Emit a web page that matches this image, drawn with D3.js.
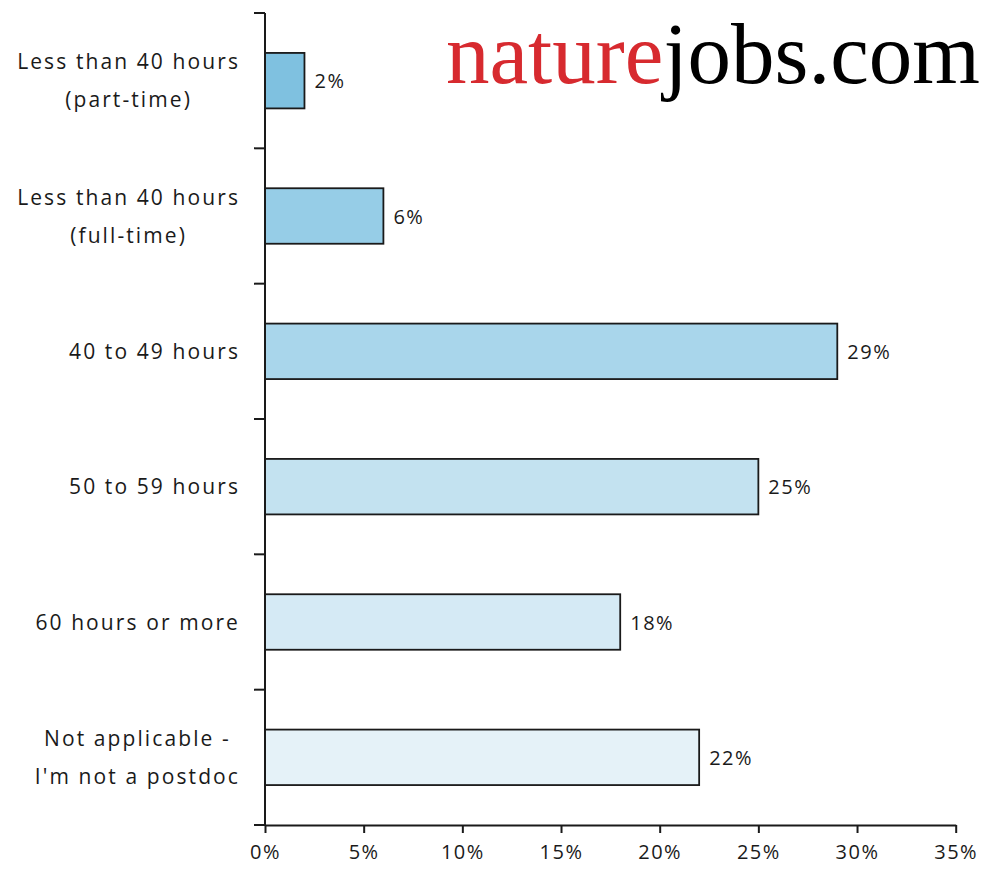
<!DOCTYPE html>
<html>
<head>
<meta charset="utf-8">
<script src="https://cdn.jsdelivr.net/npm/d3@7"></script>
<style>
  html, body { margin: 0; padding: 0; background: #ffffff; }
  svg { display: block; }
</style>
</head>
<body>
<svg id="chart" width="985" height="877"></svg>
<script>
// Weekly working hours of postdocs (share of respondents)
const categories = [
  ["Less than 40 hours", "(part-time)"],
  ["Less than 40 hours", "(full-time)"],
  ["40 to 49 hours"],
  ["50 to 59 hours"],
  ["60 hours or more"],
  ["Not applicable -", "I'm not a postdoc"]
];
const shares = [2, 6, 29, 25, 18, 22];
const barColors = ["#7fc1e0", "#96cde7", "#a9d6eb", "#c3e2f0", "#d5eaf5", "#e5f2f8"];
const xTicks = [0, 5, 10, 15, 20, 25, 30, 35];
const logoParts = [
  { text: "nature", color: "#d72a2f" },
  { text: "jobs.com", color: "#000000" }
];

const svg = d3.select("#chart");
const ink = "#1a1a1a";
const labelFont = "'Open Sans', 'Noto Sans', sans-serif";

const keys = categories.map(c => c.join(" "));
const rows = keys.map((k, i) => ({ key: k, lines: categories[i], value: shares[i], color: barColors[i] }));

const x = d3.scaleLinear().domain([0, 35]).range([265, 955.7]);
const y = d3.scaleBand().domain(keys).range([13, 825]).paddingInner(0.59).paddingOuter(0.295);

// Bars
svg.append("g")
  .selectAll("rect")
  .data(rows)
  .join("rect")
  .attr("x", x(0))
  .attr("y", d => y(d.key))
  .attr("width", d => x(d.value) - x(0))
  .attr("height", y.bandwidth())
  .attr("fill", d => d.color)
  .attr("stroke", ink)
  .attr("stroke-width", 1.8);

// Value labels
svg.append("g")
  .selectAll("text")
  .data(rows)
  .join("text")
  .attr("x", d => x(d.value) + 10)
  .attr("y", d => y(d.key) + y.bandwidth() / 2 + 7.5)
  .attr("font-family", labelFont)
  .attr("font-size", 20)
  .attr("letter-spacing", 1.5)
  .attr("fill", ink)
  .text(d => d.value + "%");

// X axis
const xAxis = svg.append("g")
  .attr("transform", `translate(0,825)`)
  .call(d3.axisBottom(x).tickValues(xTicks).tickSize(8).tickSizeOuter(0).tickPadding(26).tickFormat(d => d + "%"));
xAxis.select(".domain").attr("stroke", ink).attr("stroke-width", 2);
xAxis.selectAll(".tick line").attr("stroke", ink).attr("stroke-width", 2);
xAxis.selectAll(".tick text")
  .attr("font-family", labelFont)
  .attr("font-size", 20)
  .attr("letter-spacing", 1.5)
  .attr("fill", ink)
  .attr("dy", "0");

// Y axis: spine plus ticks on the band boundaries
const [y0, y1] = y.range();
const boundaries = [y0].concat(keys.map(k => y(k) + y.bandwidth() + (y.step() - y.bandwidth()) / 2));
const yAxis = svg.append("g");
yAxis.append("line")
  .attr("x1", x(0)).attr("x2", x(0))
  .attr("y1", y0).attr("y2", y1)
  .attr("stroke", ink).attr("stroke-width", 2);
yAxis.selectAll("line.tick")
  .data(boundaries)
  .join("line")
  .attr("class", "tick")
  .attr("x1", x(0) - 11).attr("x2", x(0))
  .attr("y1", d => d).attr("y2", d => d)
  .attr("stroke", ink).attr("stroke-width", 2);

// Category labels: centred lines, block right-aligned against the axis
const labelRight = 240;
const lineGap = 38;
const catG = svg.append("g");
rows.forEach(d => {
  const c = y(d.key) + y.bandwidth() / 2;
  const t = catG.append("text")
    .attr("font-family", labelFont)
    .attr("font-size", 21)
    .attr("letter-spacing", 2.1)
    .attr("fill", ink)
    .attr("text-anchor", "middle");
  const n = d.lines.length;
  const spans = d.lines.map((line, i) =>
    t.append("tspan")
      .attr("y", c + 7.5 + (i - (n - 1) / 2) * lineGap)
      .text(line));
  const w = d3.max(spans, s => s.node().getComputedTextLength());
  spans.forEach(s => s.attr("x", labelRight - w / 2));
});

// Site logo
const logo = svg.append("text")
  .attr("x", 446)
  .attr("y", 83)
  .attr("font-family", "'Liberation Serif', 'DejaVu Serif', serif")
  .attr("font-size", 87);
logo.selectAll("tspan")
  .data(logoParts)
  .join("tspan")
  .attr("fill", d => d.color)
  .text(d => d.text);
</script>
</body>
</html>
